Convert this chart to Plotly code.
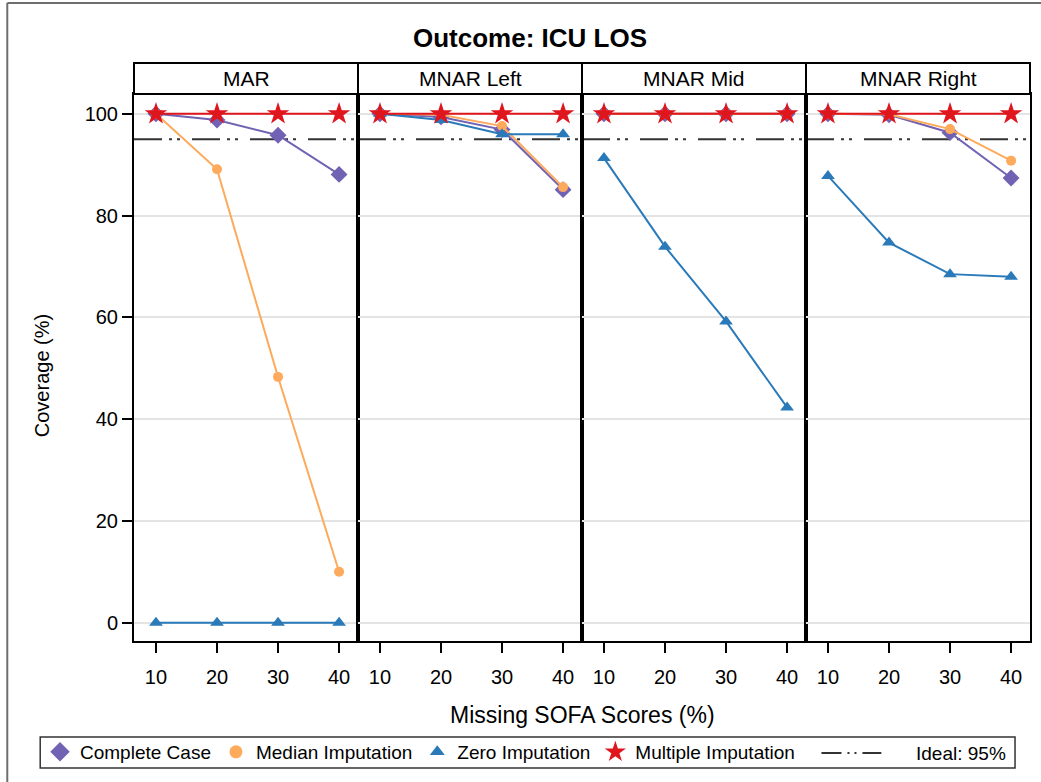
import plotly.graph_objects as go
from plotly.subplots import make_subplots

# ---- data -------------------------------------------------------------
missing_pct = [10, 20, 30, 40]
mechanisms = ["MAR", "MNAR Left", "MNAR Mid", "MNAR Right"]

complete_case = {
    "MAR": [100, 98.8, 95.8, 88.1],
    "MNAR Left": [100, 99.4, 96.9, 85.1],
    "MNAR Mid": [100, 100, 100, 100],
    "MNAR Right": [100, 99.8, 96.3, 87.4],
}
median_imputation = {
    "MAR": [100, 89.1, 48.3, 10.0],
    "MNAR Left": [100, 99.8, 97.6, 85.6],
    "MNAR Mid": [100, 100, 100, 100],
    "MNAR Right": [100, 99.9, 97.0, 90.8],
}
zero_imputation = {
    "MAR": [0, 0, 0, 0],
    "MNAR Left": [100, 98.8, 96.0, 96.0],
    "MNAR Mid": [91.3, 73.9, 59.2, 42.3],
    "MNAR Right": [87.8, 74.7, 68.5, 68.0],
}
multiple_imputation = {
    "MAR": [100, 100, 100, 100],
    "MNAR Left": [100, 100, 100, 100],
    "MNAR Mid": [100, 100, 100, 100],
    "MNAR Right": [100, 100, 100, 100],
}
ideal_coverage = 95
ideal_label = "Ideal: 95%"
y_ticks = [0, 20, 40, 60, 80, 100]

# ---- layout constants ---------------------------------------------------
W, H = 1041, 782
ML, MR, MT, MB = 134, 9, 94, 141
PW, PH = W - ML - MR, H - MT - MB
FONT = "Liberation Sans, Arial, sans-serif"


def paper_x(px):
    return (px - ML) / PW


def paper_y(py):
    return (H - MB - py) / PH


series = [
    ("Complete Case", complete_case, "#7262b3", "diamond", 13, 15),
    ("Median Imputation", median_imputation, "#fdaa5c", "circle", 10, 13),
    ("Zero Imputation", zero_imputation, "#2a7ab9", "triangle-up", 12, 13),
    ("Multiple Imputation", multiple_imputation, "#e0161e", "star", 17, 18),
]

fig = make_subplots(rows=1, cols=4, shared_yaxes=True, horizontal_spacing=0)

for name, values, color, symbol, size, _ in series:
    for i, mech in enumerate(mechanisms):
        fig.add_trace(
            go.Scatter(
                x=missing_pct,
                y=values[mech],
                mode="lines+markers",
                name=name,
                legendgroup=name,
                showlegend=False,
                line=dict(color=color, width=2),
                marker=dict(symbol=symbol, size=size, color=color,
                            line=dict(width=0)),
            ),
            row=1, col=i + 1,
        )

# legend keys: markers only
for name, _, color, symbol, _, legend_size in series:
    fig.add_trace(
        go.Scatter(
            x=[None], y=[None], mode="markers", name=name, legendgroup=name,
            marker=dict(symbol=symbol, size=legend_size, color=color,
                        line=dict(width=0)),
            showlegend=True,
        ),
        row=1, col=1,
    )

IDEAL_DASH = "28px,7px,3px,5px,3px,12px"
IDEAL_KEY_DASH = "20px,6px,2px,5px,2px,6px"

strip_top = paper_y(63)
for i, mech in enumerate(mechanisms):
    suffix = "" if i == 0 else str(i + 1)
    # ideal coverage reference line
    fig.add_shape(
        type="line", xref=f"x{suffix} domain", yref=f"y{suffix}",
        x0=0, x1=1, y0=ideal_coverage, y1=ideal_coverage,
        line=dict(color="#333333", width=2, dash=IDEAL_DASH),
        layer="below",
    )
    # panel header strip
    fig.add_shape(
        type="rect", xref=f"x{suffix} domain", yref="paper",
        x0=0, x1=1, y0=1, y1=strip_top,
        line=dict(color="black", width=2), fillcolor="white",
    )
    fig.add_annotation(
        text=mech, xref=f"x{suffix} domain", yref="paper",
        x=0.5, y=(1 + strip_top) / 2, showarrow=False,
        xanchor="center", yanchor="middle",
        font=dict(family=FONT, size=21, color="black"),
    )

fig.update_xaxes(
    range=[6.4, 43.1], tickvals=missing_pct, ticks="outside", ticklen=10,
    tickwidth=1.5, tickcolor="black", showline=True, mirror=True,
    linecolor="black", linewidth=2, showgrid=False, zeroline=False,
    ticklabelstandoff=7,
    tickfont=dict(family=FONT, size=20, color="black"),
)
fig.update_yaxes(
    range=[-3.6, 103.9], tickvals=y_ticks, showline=True, mirror=True,
    linecolor="black", linewidth=2, showgrid=True, gridcolor="#e4e4e4",
    gridwidth=1.5, zeroline=False,
    tickfont=dict(family=FONT, size=20, color="black"),
)
fig.update_yaxes(ticks="outside", ticklen=10, tickwidth=1.5,
                 tickcolor="black", row=1, col=1)
for c in (2, 3, 4):
    fig.update_yaxes(ticks="", showticklabels=False, row=1, col=c)

# axis titles
fig.add_annotation(
    text="Missing SOFA Scores (%)", xref="paper", yref="paper",
    x=0.5, y=paper_y(715), showarrow=False, xanchor="center",
    yanchor="middle", font=dict(family=FONT, size=23, color="black"),
)
fig.add_annotation(
    text="Coverage (%)", xref="paper", yref="paper",
    x=paper_x(42), y=paper_y(376), showarrow=False, textangle=-90,
    xanchor="center", yanchor="middle",
    font=dict(family=FONT, size=20, color="black"),
)

# legend frame and the reference-line key
LEG_TOP, LEG_BOT, LEG_MID = 737, 768, 753
fig.add_shape(type="rect", xref="paper", yref="paper",
              x0=paper_x(40), x1=paper_x(1017),
              y0=paper_y(LEG_TOP), y1=paper_y(LEG_BOT),
              line=dict(color="#333333", width=1.5), fillcolor="rgba(0,0,0,0)")
fig.add_shape(type="line", xref="paper", yref="paper",
              x0=paper_x(823), x1=paper_x(883),
              y0=paper_y(LEG_MID), y1=paper_y(LEG_MID),
              line=dict(color="#333333", width=2, dash=IDEAL_KEY_DASH))
fig.add_annotation(
    text=ideal_label, xref="paper", yref="paper",
    x=paper_x(916), y=paper_y(LEG_MID), showarrow=False,
    xanchor="left", yanchor="middle",
    font=dict(family=FONT, size=19, color="black"),
)

# outer page frame (left and top edges)
fig.add_shape(type="line", xref="paper", yref="paper",
              x0=paper_x(7), x1=paper_x(7), y0=paper_y(3), y1=paper_y(800),
              line=dict(color="#6e6e6e", width=2))
fig.add_shape(type="line", xref="paper", yref="paper",
              x0=paper_x(7), x1=paper_x(1060), y0=paper_y(3), y1=paper_y(3),
              line=dict(color="#6e6e6e", width=2))

fig.update_layout(
    width=W, height=H,
    margin=dict(l=ML, r=MR, t=MT, b=MB),
    paper_bgcolor="white", plot_bgcolor="white",
    title=dict(
        text="<b>Outcome: ICU LOS</b>", x=530 / W, xanchor="center",
        y=1 - 38 / H, yanchor="middle",
        font=dict(family=FONT, size=26, color="black"),
    ),
    legend=dict(
        orientation="h", xref="container", yref="container",
        x=40 / W, xanchor="left", y=1 - 733 / H, yanchor="top",
        borderwidth=0, bgcolor="rgba(0,0,0,0)",
        font=dict(family=FONT, size=19, color="black"),
        traceorder="normal", itemwidth=30,
    ),
    showlegend=True,
)

fig.write_html("out.html")
